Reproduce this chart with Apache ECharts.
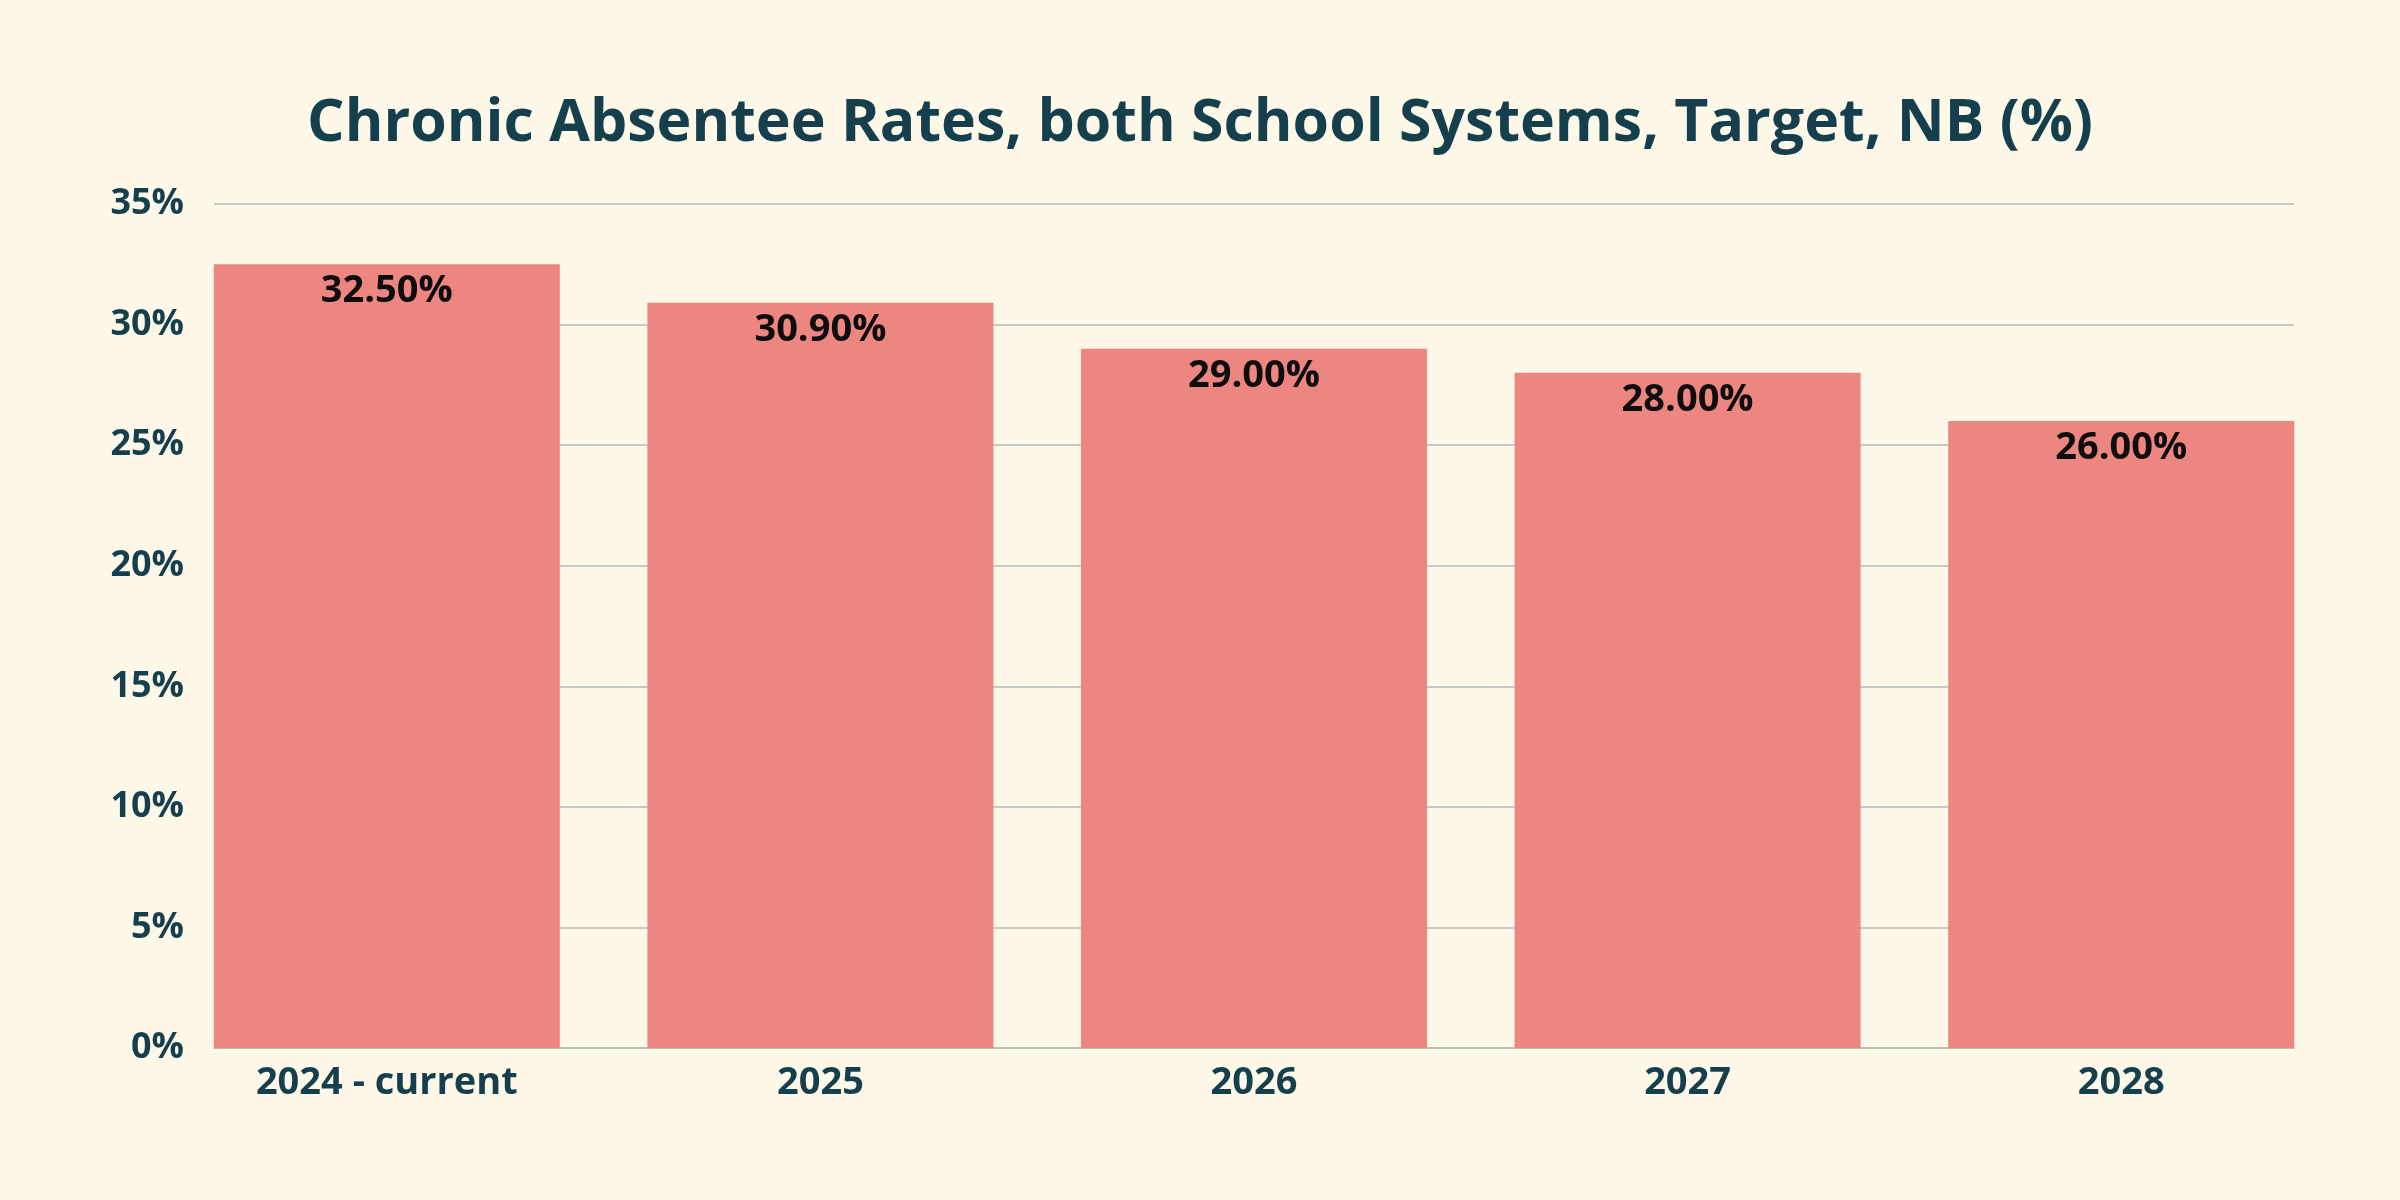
<!DOCTYPE html>
<html>
<head>
<meta charset="utf-8">
<title>Chronic Absentee Rates</title>
<script src="https://cdn.jsdelivr.net/npm/echarts@6/dist/echarts.min.js"></script>
<style>
  html, body { margin: 0; padding: 0; background: #fef8e9; }
  #chart { width: 2400px; height: 1200px; }
</style>
</head>
<body>
<div id="chart"></div>
<script>
// data
var years = ['2024 - current', '2025', '2026', '2027', '2028'];
var rates = [32.5, 30.9, 29.0, 28.0, 26.0];
var yTicks = [0, 5, 10, 15, 20, 25, 30, 35];

var teal = '#153f4c';
var font = 'Open Sans';

var chart = echarts.init(document.getElementById('chart'));
chart.setOption({
    backgroundColor: '#fef8e9',
    animation: false,
    title: {
        text: 'Chronic Absentee Rates, both School Systems, Target, NB (%)',
        left: 'center',
        top: 90,
        textStyle: { color: teal, fontFamily: font, fontWeight: 700, fontSize: 59 }
    },
    grid: [
        // grid for the gridlines / y labels
        { left: 214, right: 106, top: 204, bottom: 152 },
        // grid for the bars (bars flush with the gridline ends)
        { left: 170, right: 62, top: 204, bottom: 152 }
    ],
    xAxis: [
        {
            type: 'category', gridIndex: 0, data: years,
            axisLine: { show: true, lineStyle: { color: '#b9c0b8', width: 2 } },
            axisTick: { show: false }, axisLabel: { show: false }
        },
        {
            type: 'category', gridIndex: 1, data: years,
            axisLine: { show: false }, axisTick: { show: false },
            axisLabel: {
                color: teal, fontFamily: font, fontWeight: 700, fontSize: 38, margin: 16
            }
        }
    ],
    yAxis: [
        {
            type: 'value', gridIndex: 0, min: yTicks[0], max: yTicks[yTicks.length - 1], interval: 5,
            axisLine: { show: false }, axisTick: { show: false },
            splitLine: { lineStyle: { color: '#c8cbc3', width: 2 } },
            axisLabel: {
                color: teal, fontFamily: font, fontWeight: 700, fontSize: 36, margin: 30,
                formatter: function (v) { return v + '%'; }
            }
        },
        {
            type: 'value', gridIndex: 1, min: yTicks[0], max: yTicks[yTicks.length - 1], interval: 5,
            axisLine: { show: false }, axisTick: { show: false },
            splitLine: { show: false }, axisLabel: { show: false }
        }
    ],
    series: [{
        type: 'bar',
        xAxisIndex: 1, yAxisIndex: 1,
        data: rates,
        barCategoryGap: '20.2%',
        itemStyle: { color: '#ed8580' },
        label: {
            show: true, position: 'insideTop', distance: 8,
            color: '#0d0d0d', fontFamily: font, fontWeight: 700, fontSize: 38,
            formatter: function (p) { return p.value.toFixed(2) + '%'; }
        }
    }]
});
</script>
</body>
</html>
